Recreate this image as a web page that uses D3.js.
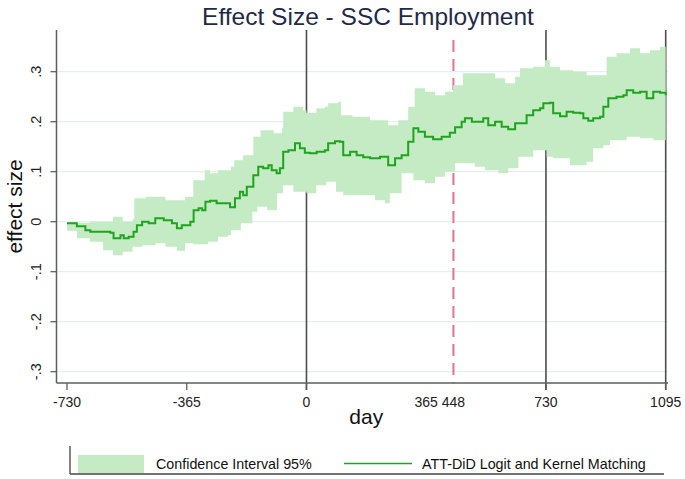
<!DOCTYPE html>
<html>
<head>
<meta charset="utf-8">
<script src="https://cdn.jsdelivr.net/npm/d3@7"></script>
<style>
  html, body { margin: 0; padding: 0; background: #ffffff; }
  svg { display: block; font-family: "Liberation Sans", Arial, sans-serif; }
</style>
</head>
<body>
<svg id="chart" width="685" height="479"></svg>
<script>
// ---------------- data ----------------
const chartTitle = "Effect Size - SSC Employment";
const xAxisTitle = "day";
const yAxisTitle = "effect size";

const lineDays = [-730, -700, -674, -659, -628, -598, -588, -567, -557, -542, -527, -517, -501, -481, -461, -435, -410, -395, -380, -354, -344, -329, -318, -308, -294, -274, -248, -233, -218, -203, -193, -182, -167, -162, -147, -132, -116, -106, -91, -81, -71, -55, -35, -20, -5, 11, 31, 56, 66, 87, 102, 112, 133, 153, 173, 194, 224, 249, 270, 290, 310, 326, 341, 361, 386, 412, 437, 453, 473, 483, 504, 529, 539, 554, 575, 595, 615, 636, 651, 671, 691, 712, 722, 742, 752, 773, 793, 813, 834, 844, 859, 874, 895, 905, 920, 945, 966, 976, 996, 1017, 1037, 1057, 1078, 1095];
const lineValues = [-0.003, -0.009, -0.017, -0.02, -0.02, -0.022, -0.033, -0.027, -0.033, -0.03, -0.02, -0.007, 0.0, -0.003, 0.007, 0.003, -0.003, -0.013, -0.007, 0.0, 0.023, 0.027, 0.023, 0.04, 0.042, 0.037, 0.037, 0.029, 0.047, 0.06, 0.053, 0.07, 0.07, 0.093, 0.11, 0.107, 0.113, 0.103, 0.097, 0.107, 0.14, 0.143, 0.157, 0.147, 0.138, 0.137, 0.14, 0.143, 0.157, 0.161, 0.16, 0.133, 0.14, 0.133, 0.129, 0.127, 0.13, 0.113, 0.127, 0.133, 0.16, 0.187, 0.18, 0.17, 0.165, 0.17, 0.178, 0.189, 0.2, 0.207, 0.2, 0.2, 0.207, 0.193, 0.2, 0.19, 0.185, 0.197, 0.197, 0.213, 0.223, 0.227, 0.237, 0.238, 0.217, 0.211, 0.22, 0.218, 0.217, 0.207, 0.202, 0.207, 0.21, 0.23, 0.247, 0.25, 0.253, 0.263, 0.258, 0.26, 0.247, 0.26, 0.258, 0.253];

const ciUpperDays = [-730, -700, -660, -620, -590, -560, -530, -525, -490, -460, -430, -395, -370, -345, -310, -294, -270, -230, -220, -193, -162, -140, -100, -75, -71, -40, -10, 0, 30, 56, 66, 97, 105, 140, 194, 220, 249, 280, 310, 330, 361, 392, 422, 447, 477, 533, 575, 605, 636, 651, 691, 727, 742, 773, 813, 854, 900, 915, 945, 986, 1017, 1047, 1078, 1095];
const ciUpperValues = [-0.001, -0.002, 0.0, 0.0, 0.01, 0.0, 0.005, 0.047, 0.05, 0.05, 0.043, 0.043, 0.05, 0.083, 0.103, 0.097, 0.103, 0.11, 0.123, 0.133, 0.17, 0.183, 0.177, 0.187, 0.22, 0.23, 0.223, 0.218, 0.227, 0.23, 0.237, 0.24, 0.213, 0.21, 0.203, 0.203, 0.193, 0.203, 0.23, 0.267, 0.26, 0.253, 0.26, 0.273, 0.297, 0.297, 0.287, 0.277, 0.29, 0.307, 0.31, 0.323, 0.31, 0.303, 0.3, 0.293, 0.293, 0.33, 0.337, 0.347, 0.337, 0.343, 0.35, 0.343];

const ciLowerDays = [-730, -700, -660, -620, -590, -560, -530, -500, -460, -430, -395, -370, -345, -300, -270, -240, -230, -200, -165, -150, -120, -90, -72, -40, 0, 30, 60, 90, 112, 150, 209, 239, 254, 290, 326, 361, 392, 422, 453, 473, 513, 544, 585, 615, 646, 691, 732, 752, 803, 854, 874, 905, 925, 976, 1017, 1057, 1095];
const ciLowerValues = [-0.005, -0.018, -0.033, -0.04, -0.057, -0.067, -0.06, -0.05, -0.047, -0.043, -0.05, -0.058, -0.043, -0.045, -0.04, -0.03, -0.027, -0.017, -0.003, 0.02, 0.03, 0.023, 0.057, 0.073, 0.06, 0.057, 0.073, 0.08, 0.06, 0.053, 0.053, 0.043, 0.037, 0.057, 0.097, 0.083, 0.077, 0.09, 0.1, 0.117, 0.117, 0.11, 0.103, 0.097, 0.107, 0.13, 0.143, 0.13, 0.127, 0.113, 0.12, 0.147, 0.153, 0.163, 0.17, 0.167, 0.163];

const xTickValues = [-730, -365, 0, 365, 448, 730, 1095];
const xTickLabels = ["-730", "-365", "0", "365", "448", "730", "1095"];
const xTickMarks = [-730, -365, 0, 730, 1095];
const yTickValues = [-0.3, -0.2, -0.1, 0, 0.1, 0.2, 0.3];
const yTickLabels = ["-.3", "-.2", "-.1", "0", ".1", ".2", ".3"];
const refLineDays = [0, 730, 1095];
const eventDay = 448;

const legendLabels = ["Confidence Interval 95%", "ATT-DiD Logit and Kernel Matching"];

// ---------------- layout ----------------
const plotLeft = 56.5, plotRight = 668, plotTop = 30, plotBottom = 383;
const colBand = "#c4ebc4", colLine = "#1ea51e", colAxis = "#5e5e5e",
      colRef = "#4d4d4d", colGrid = "#e6eef1", colEvent = "#e0738f", colTitle = "#1f2a4a";

const svg = d3.select("#chart");
const x = d3.scaleLinear().domain([-730, 1095]).range([67, 665.7]);
const y = d3.scaleLinear().domain([-0.3, 0.3]).range([371.7, 71.7]);

// gridlines
svg.append("g").selectAll("line").data(yTickValues).join("line")
  .attr("x1", plotLeft).attr("x2", plotRight)
  .attr("y1", d => y(d)).attr("y2", d => y(d))
  .attr("stroke", colGrid).attr("stroke-width", 1.2);

// reference lines
svg.append("g").selectAll("line").data(refLineDays).join("line")
  .attr("x1", d => x(d)).attr("x2", d => x(d))
  .attr("y1", plotTop).attr("y2", plotBottom + 7)
  .attr("stroke", colRef).attr("stroke-width", 1.6);

svg.append("line")
  .attr("x1", x(eventDay)).attr("x2", x(eventDay))
  .attr("y1", plotTop + 10).attr("y2", plotBottom)
  .attr("stroke", colEvent).attr("stroke-width", 2)
  .attr("stroke-dasharray", "12,7");

// CI band
const upperPts = ciUpperDays.map((d, i) => [d, ciUpperValues[i]]);
const lowerPts = ciLowerDays.map((d, i) => [d, ciLowerValues[i]]).reverse();
const bandLine = d3.line().x(d => x(d[0])).y(d => y(d[1])).curve(d3.curveStepAfter);
svg.append("path")
  .attr("d", bandLine(upperPts.concat(lowerPts)) + "Z")
  .attr("fill", colBand).attr("stroke", "none");

// effect line
const effPts = lineDays.map((d, i) => [d, lineValues[i]]);
svg.append("path")
  .attr("d", d3.line().x(d => x(d[0])).y(d => y(d[1])).curve(d3.curveStepAfter)(effPts))
  .attr("fill", "none").attr("stroke", colLine).attr("stroke-width", 2);

// axes lines
svg.append("line").attr("x1", plotLeft).attr("x2", plotLeft).attr("y1", plotTop).attr("y2", plotBottom)
  .attr("stroke", colAxis).attr("stroke-width", 1.5);
svg.append("line").attr("x1", plotLeft).attr("x2", plotRight).attr("y1", plotBottom).attr("y2", plotBottom)
  .attr("stroke", colAxis).attr("stroke-width", 1.5);

// y ticks
svg.append("g").selectAll("line").data(yTickValues).join("line")
  .attr("x1", plotLeft - 6).attr("x2", plotLeft)
  .attr("y1", d => y(d)).attr("y2", d => y(d))
  .attr("stroke", colAxis).attr("stroke-width", 1.3);
svg.append("g").selectAll("text").data(yTickValues).join("text")
  .attr("transform", d => `translate(41,${y(d)}) rotate(-90)`)
  .attr("text-anchor", "middle")
  .attr("font-size", 14.5).attr("fill", "#222")
  .text((d, i) => yTickLabels[i]);

// x ticks
svg.append("g").selectAll("line").data(xTickMarks).join("line")
  .attr("x1", d => x(d)).attr("x2", d => x(d))
  .attr("y1", plotBottom).attr("y2", plotBottom + 7)
  .attr("stroke", colAxis).attr("stroke-width", 1.3);
svg.append("g").selectAll("text").data(xTickValues).join("text")
  .attr("x", d => x(d)).attr("y", 406.5)
  .attr("text-anchor", "middle")
  .attr("font-size", 14).attr("fill", "#222")
  .text((d, i) => xTickLabels[i]);

// titles
svg.append("text").attr("x", 368).attr("y", 25).attr("text-anchor", "middle")
  .attr("font-size", 24.5).attr("fill", colTitle).text(chartTitle);
svg.append("text").attr("x", (plotLeft + plotRight) / 2 + 4).attr("y", 424).attr("text-anchor", "middle")
  .attr("font-size", 21).attr("fill", "#111").text(xAxisTitle);
svg.append("text").attr("transform", `translate(22,${(plotTop + plotBottom) / 2}) rotate(-90)`)
  .attr("text-anchor", "middle")
  .attr("font-size", 21).attr("fill", "#111").text(yAxisTitle);

// legend
const lg = svg.append("g");
lg.append("line").attr("x1", 70).attr("x2", 70).attr("y1", 446).attr("y2", 474).attr("stroke", "#444").attr("stroke-width", 1.3);
lg.append("line").attr("x1", 70).attr("x2", 664).attr("y1", 474).attr("y2", 474).attr("stroke", "#444").attr("stroke-width", 1.3);
lg.append("rect").attr("x", 78).attr("y", 455).attr("width", 66).attr("height", 18).attr("fill", colBand);
lg.append("text").attr("x", 156).attr("y", 469).attr("font-size", 14.3).attr("fill", "#111").text(legendLabels[0]);
lg.append("line").attr("x1", 344).attr("x2", 412).attr("y1", 463.5).attr("y2", 463.5).attr("stroke", colLine).attr("stroke-width", 1.6);
lg.append("text").attr("x", 422).attr("y", 469).attr("font-size", 14.3).attr("fill", "#111").text(legendLabels[1]);
</script>
</body>
</html>
